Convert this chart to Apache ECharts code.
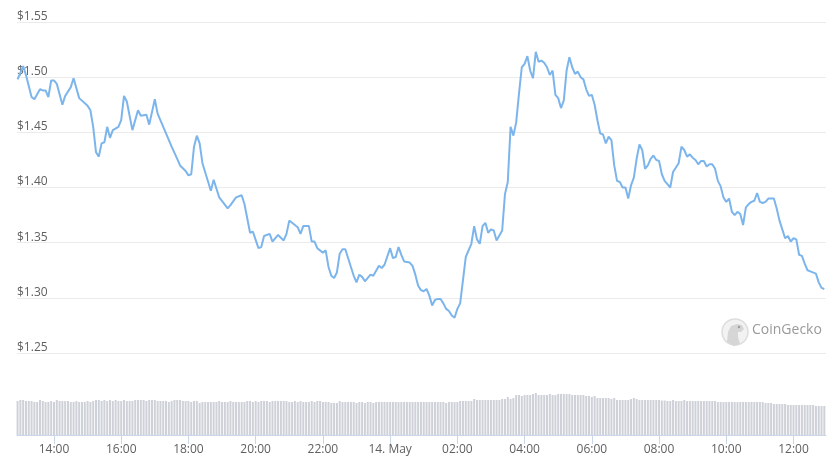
<!DOCTYPE html>
<html>
<head>
<meta charset="utf-8">
<script src="https://cdn.jsdelivr.net/npm/echarts@6/dist/echarts.min.js"></script>
<style>html,body{margin:0;padding:0;background:#fff;}#c{width:840px;height:475px;}</style>
</head>
<body>
<div id="c"></div>
<script>
// Time is in minutes after 12:00 on 13 May; data is on a 5-minute grid starting 12:55.
const START_MIN = 55;
const STEP_MIN = 5;

// Price samples: 5-minute slot index and price in USD
const priceSlots = [0,2,3,5,6,8,9,10,11,12,13,14,16,17,19,20,22,25,26,27,28,29,30,31,32,33,34,36,37,38,39,41,43,44,46,47,49,50,53,55,57,58,60,61,62,63,64,65,66,69,70,72,75,76,78,80,81,83,84,86,87,88,90,91,93,95,96,97,98,100,101,102,104,105,106,107,109,110,111,112,113,114,115,116,117,119,120,121,122,123,124,126,127,129,130,131,133,134,135,136,137,138,140,141,142,143,144,145,146,147,148,149,150,151,152,153,154,155,156,157,158,160,162,163,164,165,166,167,168,169,170,171,173,174,175,176,177,178,179,180,181,182,183,184,185,186,187,188,189,190,191,192,193,194,195,196,197,198,199,200,201,202,203,204,205,206,207,208,209,210,211,212,213,214,215,216,217,218,219,220,221,222,223,224,225,226,227,228,229,230,231,232,233,234,236,237,238,239,240,241,242,243,244,245,246,247,248,249,250,251,252,253,254,255,256,257,258,259,260,261,262,263,264,265,266,267,268,270,271,272,273,274,275,276,277,278,279,280,281,282,283,285,286,287,288];
const prices = [1.498,1.510,1.502,1.482,1.480,1.489,1.488,1.488,1.482,1.497,1.497,1.494,1.475,1.483,1.491,1.499,1.481,1.474,1.470,1.455,1.432,1.428,1.440,1.441,1.455,1.445,1.452,1.455,1.461,1.483,1.478,1.452,1.470,1.465,1.466,1.457,1.480,1.467,1.449,1.437,1.426,1.420,1.415,1.411,1.412,1.437,1.447,1.440,1.422,1.397,1.407,1.391,1.381,1.384,1.391,1.393,1.385,1.359,1.360,1.345,1.346,1.356,1.358,1.351,1.357,1.352,1.358,1.370,1.368,1.364,1.358,1.365,1.365,1.351,1.351,1.345,1.341,1.343,1.328,1.320,1.318,1.323,1.340,1.344,1.344,1.328,1.320,1.314,1.321,1.319,1.315,1.321,1.320,1.329,1.327,1.330,1.345,1.336,1.337,1.346,1.339,1.333,1.332,1.329,1.321,1.311,1.307,1.306,1.308,1.302,1.293,1.298,1.299,1.299,1.295,1.290,1.288,1.284,1.282,1.290,1.295,1.337,1.349,1.365,1.353,1.349,1.365,1.368,1.359,1.362,1.361,1.352,1.361,1.394,1.405,1.455,1.447,1.459,1.485,1.509,1.512,1.519,1.506,1.499,1.523,1.514,1.515,1.513,1.509,1.502,1.506,1.484,1.481,1.472,1.479,1.506,1.518,1.509,1.503,1.505,1.500,1.498,1.489,1.483,1.484,1.475,1.461,1.449,1.448,1.440,1.446,1.443,1.420,1.406,1.405,1.400,1.400,1.390,1.402,1.409,1.426,1.439,1.434,1.417,1.420,1.426,1.429,1.425,1.424,1.412,1.406,1.403,1.400,1.414,1.422,1.437,1.434,1.428,1.430,1.427,1.425,1.421,1.424,1.424,1.419,1.421,1.421,1.417,1.406,1.401,1.391,1.387,1.390,1.378,1.375,1.378,1.376,1.366,1.382,1.385,1.387,1.388,1.395,1.387,1.386,1.387,1.390,1.390,1.381,1.370,1.362,1.354,1.356,1.351,1.354,1.353,1.339,1.338,1.331,1.325,1.324,1.322,1.314,1.309,1.308];

// Volume per 5-minute slot (relative units)
const volumes = [
340,350,350,340,340,340,330,330,350,340,
330,330,340,330,350,340,340,340,340,330,
330,340,330,330,330,340,330,340,350,350,
340,350,340,350,340,350,340,340,350,340,
340,340,350,350,350,350,340,350,350,350,
340,340,340,340,330,340,350,350,350,340,
340,340,330,340,340,320,330,330,330,330,
330,330,340,330,330,330,340,330,330,330,
330,330,340,340,330,340,330,340,340,340,
330,340,340,340,340,340,340,330,330,340,
330,340,330,330,330,340,330,340,340,330,
330,330,320,320,320,340,330,330,330,330,
330,320,330,330,320,330,330,320,330,330,
330,330,330,330,330,330,330,330,330,330,
330,330,330,330,330,330,330,330,330,330,
330,330,330,320,330,330,330,330,340,340,
340,340,340,360,350,350,350,350,350,350,
350,350,350,360,360,380,360,370,400,400,
390,400,400,400,410,420,400,400,400,400,
410,400,400,410,410,410,410,410,400,400,
400,400,400,390,390,380,390,370,370,370,
370,370,360,370,350,350,350,350,350,360,
370,360,350,350,350,350,350,350,350,350,
345,345,340,340,350,340,340,340,350,340,
340,340,340,340,340,340,340,340,340,340,
330,330,330,330,330,330,330,330,330,330,
330,330,330,330,330,330,330,320,320,320,
310,310,310,310,310,300,300,300,300,300,
300,300,300,300,300,290,290,290,290
];

// Axis ticks (minutes after 12:00, 13 May) and their labels
const xTickMinutes = [120,240,360,480,600,720,840,960,1080,1200,1320,1440];
const xTickLabels = ['14:00','16:00','18:00','20:00','22:00','14. May','02:00','04:00','06:00','08:00','10:00','12:00'];
const yMin = 1.25, yMax = 1.55, yStep = 0.05;

const priceData = priceSlots.map((s, i) => [START_MIN + s * STEP_MIN, prices[i]]);
const volumeData = volumes.map((v, i) => [START_MIN + i * STEP_MIN, v]);

const X_MIN = 54, X_MAX = 1498;
const FONT = 'Open Sans, Noto Sans, sans-serif';

const chart = echarts.init(document.getElementById('c'), null, {renderer: 'canvas'});
chart.setOption({
  animation: false,
  backgroundColor: '#ffffff',
  grid: [
    {left: 17, right: 14, top: 22, height: 331, containLabel: false},
    {left: 17, right: 14, top: 390, height: 45, containLabel: false}
  ],
  xAxis: [
    {type: 'value', gridIndex: 0, min: X_MIN, max: X_MAX, show: false},
    {
      type: 'value', gridIndex: 1, min: X_MIN, max: X_MAX,
      axisLine: {show: true, lineStyle: {color: '#ccd6eb', width: 1}},
      axisTick: {show: true, customValues: xTickMinutes, length: 9, lineStyle: {color: '#ccd6eb'}},
      axisLabel: {
        show: true, customValues: xTickMinutes, margin: 9,
        color: '#606060', fontSize: 12, fontFamily: FONT,
        formatter: v => { const k = xTickMinutes.indexOf(v); return k >= 0 ? xTickLabels[k] : ''; }
      },
      splitLine: {show: false}
    }
  ],
  yAxis: [
    {
      type: 'value', gridIndex: 0, min: yMin, max: yMax, interval: yStep,
      axisLine: {show: false}, axisTick: {show: false},
      splitLine: {show: true, lineStyle: {color: '#ebebeb', width: 1}},
      axisLabel: {
        inside: true, margin: 0, align: 'left', verticalAlign: 'bottom', lineHeight: 11, padding: 0,
        color: '#606060', fontSize: 12, fontFamily: FONT,
        formatter: v => '$' + v.toFixed(2)
      }
    },
    {type: 'value', gridIndex: 1, min: 0, max: 450, show: false}
  ],
  series: [
    {
      type: 'bar', xAxisIndex: 1, yAxisIndex: 1, data: volumeData,
      barWidth: 2, itemStyle: {color: '#cfd1d8'}, silent: true, clip: false
    },
    {
      type: 'line', xAxisIndex: 0, yAxisIndex: 0, data: priceData,
      showSymbol: false, symbol: 'none', smooth: false,
      lineStyle: {color: '#7cb5ec', width: 2}, z: 5
    }
  ],
  graphic: [
    {type: 'circle', shape: {cx: 735, cy: 332, r: 13}, style: {fill: '#f2f2f2', stroke: '#dddddd', lineWidth: 1.5}, z: 1},
    {type: 'polygon', shape: {points: [[727,342],[728,332],[731,326],[737,324],[742,325],[744,329],[741,332],[738,332],[738,337],[740,344],[734,346]]}, style: {fill: '#d6d6d6'}, z: 2},
    {type: 'circle', shape: {cx: 739, cy: 327, r: 1.2}, style: {fill: '#9a9a9a'}, z: 3},
    {type: 'text', left: 752, top: 323, style: {text: 'CoinGecko', fill: '#9a9a9a', fontSize: 14, fontFamily: FONT}, z: 3}
  ]
});
</script>
</body>
</html>
